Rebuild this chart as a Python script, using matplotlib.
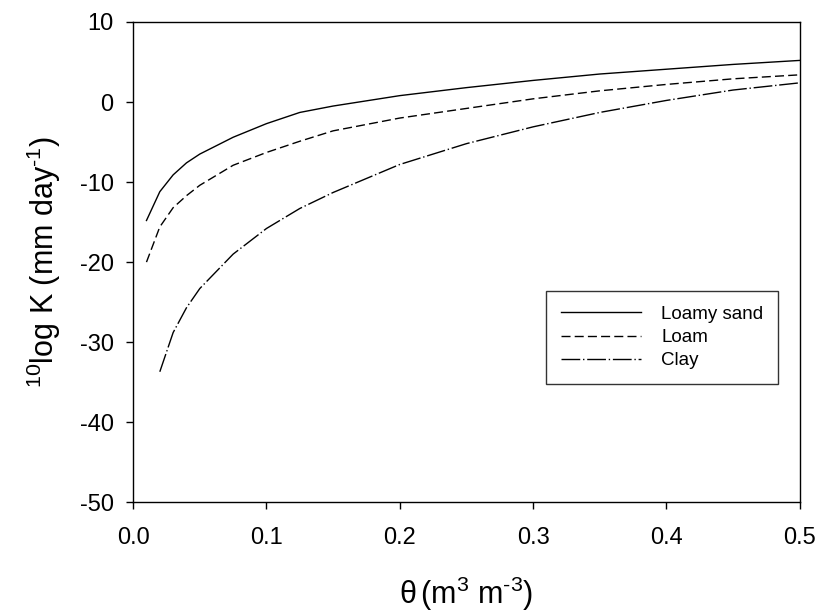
import numpy as np
import matplotlib.pyplot as plt

plt.rcParams['font.family'] = ['Liberation Sans', 'DejaVu Sans']
plt.rcParams['mathtext.fontset'] = 'custom'
plt.rcParams['mathtext.rm'] = 'Liberation Sans'
plt.rcParams['mathtext.it'] = 'Liberation Sans'
plt.rcParams['mathtext.default'] = 'regular'
plt.rcParams['axes.unicode_minus'] = False

# water content grid (m3 m-3)
theta = [0.01, 0.02, 0.03, 0.04, 0.05, 0.075, 0.1, 0.125, 0.15,
         0.2, 0.25, 0.3, 0.35, 0.4, 0.45, 0.5]

# 10log K (mm/day) per soil
loamy_sand = [-14.8, -11.2, -9.1, -7.6, -6.5, -4.4, -2.7, -1.3, -0.5,
              0.8, 1.8, 2.7, 3.5, 4.1, 4.7, 5.2]
loam = [-20.0, -15.6, -13.2, -11.7, -10.4, -7.9, -6.3, -4.9, -3.6,
        -2.0, -0.8, 0.4, 1.4, 2.2, 2.9, 3.4]
clay_theta = theta[1:]
clay = [-33.7, -28.8, -25.7, -23.3, -19.0, -15.8, -13.3, -11.3,
        -7.8, -5.2, -3.1, -1.3, 0.2, 1.5, 2.4]

fig = plt.figure(figsize=(8.27, 6.11), dpi=100)
ax = fig.add_axes([0.161, 0.178, 0.806, 0.786])

ax.plot(theta, loamy_sand, color='black', lw=1.0, ls='-', label='Loamy sand')
ax.plot(theta, loam, color='black', lw=1.0, ls=(0, (6.5, 3)), label='Loam')
ax.plot(clay_theta, clay, color='black', lw=1.0, ls=(0, (13.5, 2, 1, 2)), label='Clay')

ax.set_xlim(0, 0.5)
ax.set_ylim(-50, 10)
ax.set_xticks(np.arange(0, 0.51, 0.1))
ax.set_xticklabels(['0.0', '0.1', '0.2', '0.3', '0.4', '0.5'])
ax.set_yticks(np.arange(-50, 11, 10))
ax.tick_params(direction='out', length=5, width=1, labelsize=17,
               top=False, right=False)
ax.tick_params(axis='x', pad=13)
ax.tick_params(axis='y', pad=9)
for s in ax.spines.values():
    s.set_linewidth(1.0)

ax.set_xlabel(r'$\theta\,$(m$^{3}$ m$^{\text{-}3}$)', fontsize=22, labelpad=18)
ax.set_ylabel(r'$^{10}$log K (mm day$^{\text{-}1}$)', fontsize=22, labelpad=12)

leg = ax.legend(loc='upper left', bbox_to_anchor=(0.619, 0.440), fontsize=13.5,
                frameon=True, fancybox=False, edgecolor='black',
                handlelength=4.3, handletextpad=1.05, borderpad=0.8,
                labelspacing=0.32, borderaxespad=0)
leg.get_frame().set_linewidth(1.0)

fig.savefig('out.png', dpi=100)
